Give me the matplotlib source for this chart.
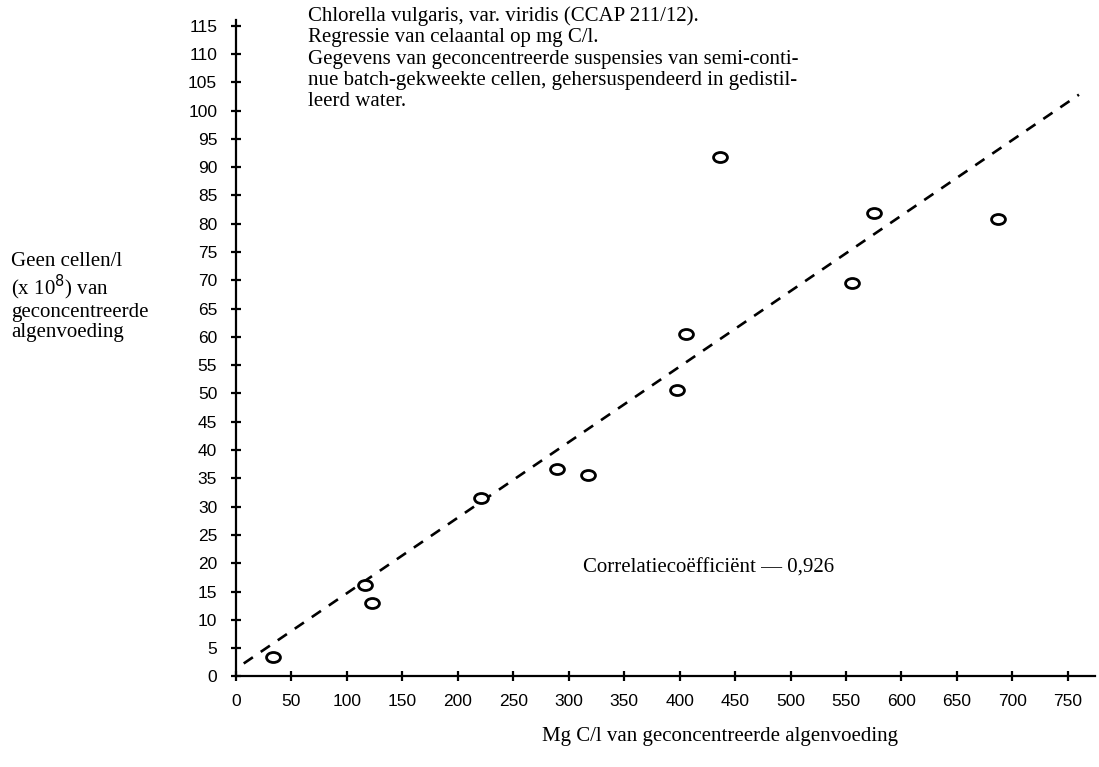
import numpy as np
import matplotlib.pyplot as plt
from matplotlib.path import Path

# gegevens
mg_c = [33, 116, 123, 221, 289, 317, 398, 406, 436, 555, 575, 687]
cellen = [3.4, 16.1, 13.0, 31.5, 36.6, 35.6, 50.7, 60.6, 91.7, 69.6, 81.9, 80.9]

lijn_x = [7, 760]
lijn_y = [2.3, 102.8]

x_ticks = list(range(0, 751, 50))
y_ticks = list(range(0, 116, 5))

titel = ("Chlorella vulgaris, var. viridis (CCAP 211/12).\n"
         "Regressie van celaantal op mg C/l.\n"
         "Gegevens van geconcentreerde suspensies van semi-conti-\n"
         "nue batch-gekweekte cellen, gehersuspendeerd in gedistil-\n"
         "leerd water.")
y_titel = "Geen cellen/l\n(x 10$^8$) van\ngeconcentreerde\nalgenvoeding"
x_titel = "Mg C/l van geconcentreerde algenvoeding"
correlatie = "Correlatiecoëfficiënt — 0,926"

serif = ['Liberation Serif', 'DejaVu Serif']
sans = ['Liberation Sans', 'DejaVu Sans']

fig = plt.figure(figsize=(10.99, 7.67), dpi=100)
ax = fig.add_axes([0.2147, 0.118, 0.7817, 0.856])

# ellips als marker (open rondje, iets platter)
cirkel = Path.unit_circle()
ellips = Path(cirkel.vertices * np.array([1.0, 0.72]), cirkel.codes)

ax.plot(lijn_x, lijn_y, color='black', lw=1.9, dashes=(4.2, 3.6))
ax.plot(mg_c, cellen, linestyle='none', marker=ellips, ms=10,
        mfc='white', mec='black', mew=2.0, zorder=3)

ax.set_xlim(0, 774.5)
ax.set_ylim(0, 116)
ax.set_xticks(x_ticks)
ax.set_yticks(y_ticks)

for s in ['top', 'right']:
    ax.spines[s].set_visible(False)
for s in ['left', 'bottom']:
    ax.spines[s].set_linewidth(1.6)

ax.tick_params(axis='both', direction='inout', length=7, width=1.6,
               labelsize=12.5)
ax.tick_params(axis='y', pad=10)
ax.tick_params(axis='x', pad=9)
for lab in ax.get_xticklabels() + ax.get_yticklabels():
    lab.set_family(sans)

ax.text(313, 19.2, correlatie, family=serif, fontsize=15, va='center')

fig.text(0.280, 0.992, titel, family=serif, fontsize=15, va='top',
         ha='left', linespacing=1.17)
fig.text(0.010, 0.672, y_titel, family=serif, fontsize=15, va='top',
         ha='left', linespacing=1.08)
fig.text(0.655, 0.040, x_titel, family=serif, fontsize=15, va='center',
         ha='center')

fig.savefig('out.png', dpi=100)
